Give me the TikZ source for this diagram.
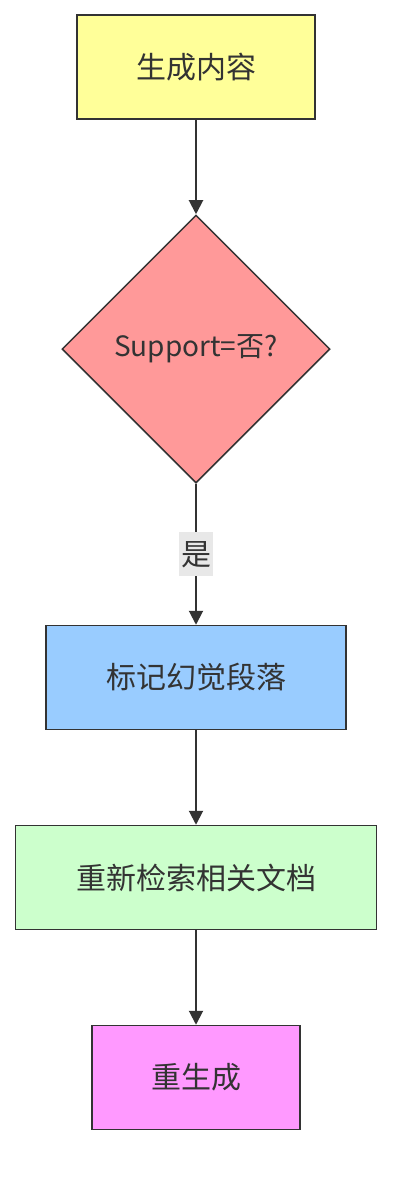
\documentclass[tikz,border=0pt]{standalone}
\usepackage{fontspec}
\setmainfont{Noto Sans CJK SC}
\usetikzlibrary{shapes.geometric,arrows.meta}
\definecolor{edge}{HTML}{333333}
\definecolor{c1}{HTML}{FFFF99}
\definecolor{c2}{HTML}{FF9999}
\definecolor{c3}{HTML}{99CCFF}
\definecolor{c4}{HTML}{CCFFCC}
\definecolor{c5}{HTML}{FF99FF}
\definecolor{lbl}{HTML}{E8E8E8}
\begin{document}
\begin{tikzpicture}[x=1pt,y=-1pt,
  box/.style={draw=edge,line width=1.5pt,minimum height=104pt,inner sep=0pt,font=\fontsize{30}{32}\selectfont,text=edge},
  conn/.style={draw=edge,line width=2pt,-{Triangle[length=14pt,width=14pt]}},
  elabel/.style={fill=lbl,inner sep=2pt,minimum width=30pt,minimum height=44pt,font=\fontsize{30}{32}\selectfont,text=edge}]
\useasboundingbox (0,0) rectangle (408,1192);
\node[box,fill=c1,minimum width=238pt] (a) at (196,67) {生成内容};
\node[box,diamond,fill=c2,minimum width=268pt,minimum height=268pt,aspect=1,inner sep=0pt,font=\fontsize{28}{30}\selectfont] (b) at (196,349) {Support=否?};
\node[box,fill=c3,minimum width=300pt] (c) at (196,677.5) {标记幻觉段落};
\node[box,fill=c4,minimum width=361pt] (d) at (196,877.5) {重新检索相关文档};
\node[box,fill=c5,minimum width=208pt] (e) at (196,1077.5) {重生成};
\draw[conn] (a) -- (b);
\draw[conn] (b) -- node[elabel] (l) {是} (c);
\draw[conn] (c) -- (d);
\draw[conn] (d) -- (e);
\end{tikzpicture}
\end{document}
